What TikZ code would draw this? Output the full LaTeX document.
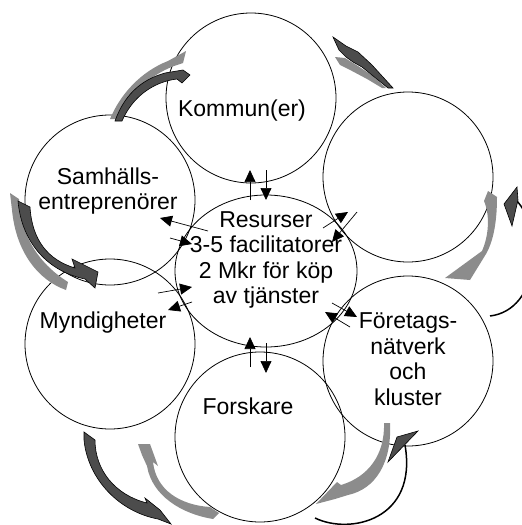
\documentclass[tikz,border=0pt]{standalone}
\usepackage{fontspec}
\setmainfont{Liberation Sans}
\usetikzlibrary{arrows.meta,shapes.geometric}

\begin{document}
\begin{tikzpicture}[x=1pt,y=-1pt,
  ring/.style={draw=black, line width=0.8pt, circle, minimum size=170pt, inner sep=0pt},
  lbl/.style={align=center, font=\fontsize{23}{25.6}\selectfont, inner sep=0pt},
  link/.style={line width=0.7pt, -{Triangle[length=12pt,width=11pt]}},
  darkarrow/.style={fill=black!70, draw=black, line width=0.6pt},
  greyarrow/.style={fill=black!45},
  swing/.style={draw=black, line width=1.5pt}
]
\useasboundingbox (0,0) rectangle (522,525);

% the six actor circles and the central resource ellipse
\node[ring] (kom) at (251,98) {};
\node[ring] (upr) at (408,177) {};
\node[ring] (sam) at (110,200) {};
\node[ring] (myn) at (110,344) {};
\node[ring] (fors) at (260,437) {};
\node[ring] (fnk) at (408,361) {};
\node[draw=black, line width=0.8pt, ellipse, minimum width=182pt, minimum height=152pt, inner sep=0pt] (res) at (266,271) {};

% labels
\node[lbl] (tkom) at (242,111) {Kommun(er)};
\node[lbl] (tsam) at (108,191) {Samhälls-\\entreprenörer};
\node[lbl] (tmyn) at (103,323) {Myndigheter};
\node[lbl] (tres) at (266,260) {Resurser\\3-5 facilitatorer\\2 Mkr för köp\\av tjänster};
\node[lbl] (tfor) at (248,406) {Forskare};
\node[lbl] (tfnk) at (408,359) {Företags-\\nätverk\\och\\kluster};

% exchange arrows between the centre and each actor
\coordinate (a1) at (250,200); \coordinate (a2) at (250,170);
\coordinate (b1) at (266,170); \coordinate (b2) at (266,200);
\draw[link] (a1) -- (a2);
\draw[link] (b1) -- (b2);
\coordinate (c1) at (323,228); \coordinate (c2) at (348,212);
\coordinate (d1) at (357,212); \coordinate (d2) at (332,242);
\draw[link] (c1) -- (c2);
\draw[link] (d1) -- (d2);
\coordinate (e1) at (208,231); \coordinate (e2) at (160,218);
\coordinate (f1) at (170,238); \coordinate (f2) at (192,244);
\draw[link] (e1) -- (e2);
\draw[link] (f1) -- (f2);
\coordinate (g1) at (158,293); \coordinate (g2) at (192,287);
\coordinate (h1) at (192,302); \coordinate (h2) at (168,310);
\draw[link] (g1) -- (g2);
\draw[link] (h1) -- (h2);
\coordinate (i1) at (332,303); \coordinate (i2) at (357,317);
\coordinate (j1) at (350,327); \coordinate (j2) at (325,312);
\draw[link] (i1) -- (i2);
\draw[link] (j1) -- (j2);
\coordinate (k1) at (250,367); \coordinate (k2) at (250,337);
\coordinate (l1) at (266,343); \coordinate (l2) at (266,373);
\draw[link] (k1) -- (k2);
\draw[link] (l1) -- (l2);

% curved block arrows around the ring
% Samhällsentreprenörer -> Kommun(er)
\fill[greyarrow] (110,119) .. controls (120,95) and (140,72) .. (168,61) -- (186,51) -- (183,63) -- (174,66) .. controls (148,76) and (128,96) .. (116,119) -- cycle;
\filldraw[darkarrow] (115,121) .. controls (124,96) and (140,80) .. (165,73) -- (183,70) -- (190,75) -- (182,83) -- (177,79) .. controls (152,82) and (132,98) .. (122,121) -- cycle;

% Kommun(er) <- upper right
\fill[greyarrow] (335,57) -- (345,58) -- (358,66) -- (373,76) -- (386,88) -- (382,88) -- (367,79) -- (352,71) -- (340,65) -- cycle;
\filldraw[darkarrow] (333,37) -- (346,46) -- (358,52) -- (372,65) -- (393,88) -- (388,88) -- (362,67) -- (353,62) -- (346,57) -- (339,50) -- cycle;

% upper right <-> Företagsnätverk
\fill[greyarrow] (445,278) -- (482,251) .. controls (489,235) and (490,215) .. (484,201) -- (488,191) -- (497,197) .. controls (497,220) and (494,240) .. (486,254) -- (470,280) -- cycle;
\draw[swing] (490,316) .. controls (540,310) and (545,230) .. (516,200);
\filldraw[darkarrow] (504,204) -- (517,187) -- (518,200) -- (512,226) -- cycle;

% Samhällsentreprenörer <-> Myndigheter
\fill[greyarrow] (10,193) -- (19,199) .. controls (20,232) and (36,262) .. (68,282) -- (66,290) .. controls (38,280) and (16,252) .. (12,210) -- cycle;
\filldraw[darkarrow] (18,201) -- (30,207) .. controls (32,240) and (48,260) .. (75,268) -- (72,259) -- (98,272) -- (95,288) -- (85,279) .. controls (50,272) and (22,245) .. (18,201) -- cycle;

% Myndigheter <-> Forskare
\filldraw[darkarrow] (84,432) -- (95,440) .. controls (95,470) and (115,495) .. (147,503) -- (145,498) -- (160,510) -- (171,524) -- (158,519) .. controls (120,512) and (88,480) .. (84,440) -- cycle;
\fill[greyarrow] (138,444) -- (150,444) -- (158,466) -- (153,462) .. controls (156,490) and (180,505) .. (210,507) -- (219,513) -- (213,519) .. controls (182,514) and (152,496) .. (147,466) -- (142,455) -- cycle;

% Forskare <-> Företagsnätverk
\fill[greyarrow] (384,423) .. controls (385,455) and (368,477) .. (341,485) -- (337,482) -- (316,504) -- (335,499) -- (348,495) .. controls (376,489) and (392,462) .. (390,423) -- cycle;
\draw[swing] (315,518) .. controls (350,535) and (418,520) .. (405,445);
\filldraw[darkarrow] (397,437) -- (418,431) -- (388,462) -- cycle;
\end{tikzpicture}
\end{document}
